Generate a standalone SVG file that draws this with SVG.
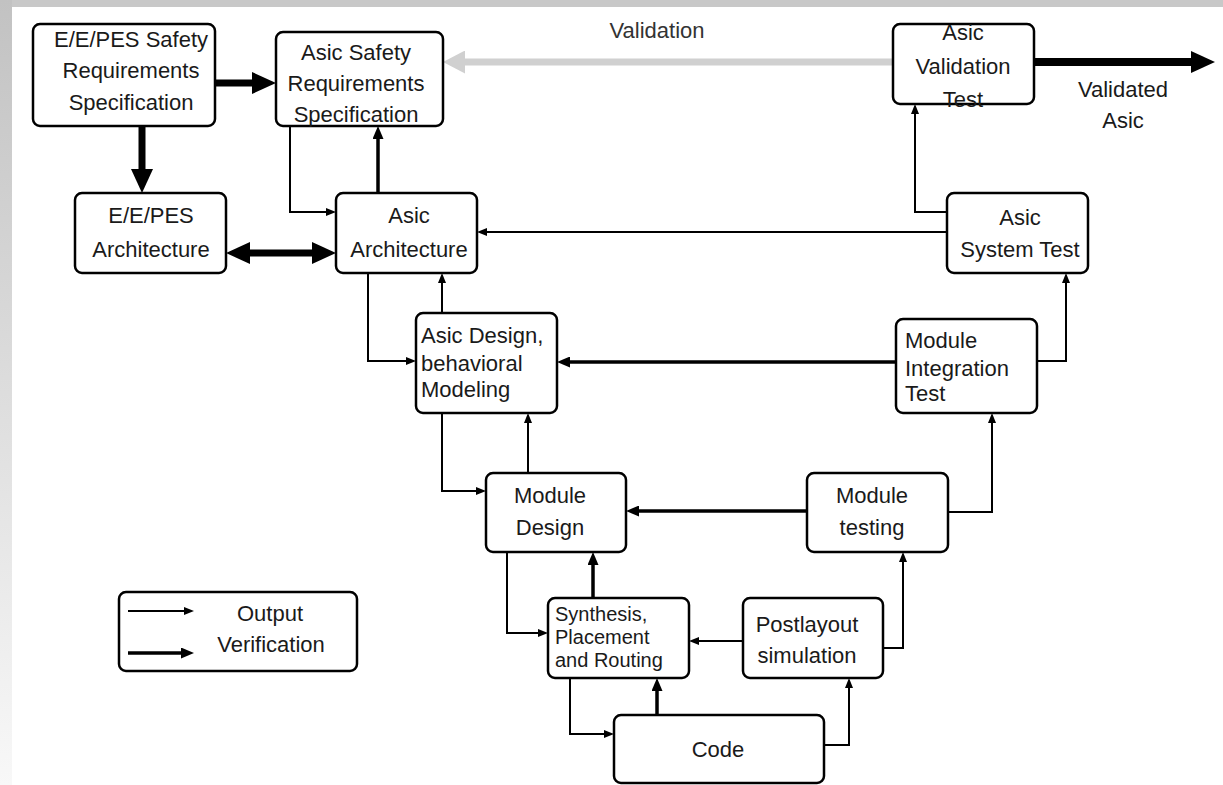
<svg xmlns="http://www.w3.org/2000/svg" width="1223" height="785" viewBox="0 0 1223 785">
<defs>
<linearGradient id="lg" x1="0" y1="0" x2="0" y2="1">
<stop offset="0" stop-color="#c2c2c2"/>
<stop offset="1" stop-color="#f8f8f8"/>
</linearGradient>
<marker id="aT" markerUnits="userSpaceOnUse" markerWidth="10" markerHeight="8" refX="7" refY="4" orient="auto"><path d="M0,0 L10,4 L0,8 z" fill="#000"/></marker>
<marker id="aM" markerUnits="userSpaceOnUse" markerWidth="13" markerHeight="11" refX="8" refY="5.5" orient="auto"><path d="M0,0 L13,5.5 L0,11 z" fill="#000"/></marker>
<marker id="aB" markerUnits="userSpaceOnUse" markerWidth="24" markerHeight="22" refX="14" refY="11" orient="auto-start-reverse"><path d="M0,0 L24,11 L0,22 z" fill="#000"/></marker>
<marker id="aG" markerUnits="userSpaceOnUse" markerWidth="22" markerHeight="23" refX="12" refY="11.5" orient="auto"><path d="M0,0 L22,11.5 L0,23 z" fill="#d0d0d0"/></marker>
</defs>
<style>
.box{fill:#fff;stroke:#000;stroke-width:2.5}
.t{font-family:"Liberation Sans",Arial,sans-serif;font-size:22px;fill:#1a1a1a}
.c{text-anchor:middle}
.thin{fill:none;stroke:#000;stroke-width:2;marker-end:url(#aT)}
.med{fill:none;stroke:#000;stroke-width:3.5;marker-end:url(#aM)}
.big{fill:none;stroke:#000;stroke-width:7;marker-end:url(#aB)}
</style>
<rect x="0" y="0" width="1223" height="785" fill="#fff"/>
<rect x="0" y="0" width="1223" height="7" fill="#c8c8c8"/>
<rect x="0" y="0" width="12" height="785" fill="url(#lg)"/>

<g id="connectors">
<path class="thin" d="M290,126 V212 H333"/>
<path class="thin" d="M947,212 H915 V107"/>
<path class="thin" d="M947,232 H480"/>
<path class="thin" d="M368,273 V361 H413"/>
<path class="thin" d="M442,313 V276"/>
<path class="thin" d="M1037,361 H1066 V276"/>
<path class="thin" d="M442,413 V491 H483"/>
<path class="thin" d="M528,473 V416"/>
<path class="thin" d="M948,512 H992 V416"/>
<path class="thin" d="M507,552 V633 H545"/>
<path class="thin" d="M743,641 H692"/>
<path class="thin" d="M883,648 H903 V555"/>
<path class="thin" d="M570,678 V734 H611"/>
<path class="thin" d="M824,745 H849 V681"/>
<path class="med" d="M378,193 V131"/>
<path class="med" d="M896,362 H562"/>
<path class="med" d="M807,511 H631"/>
<path class="med" d="M593,598 V557"/>
<path class="med" d="M657,715 V683"/>
<path class="big" d="M215,83 H266"/>
<path class="big" d="M142,126 V183"/>
<path class="big" d="M236,253 H326" style="marker-start:url(#aB)"/>
<path class="big" d="M1034,62 H1205" style="stroke-width:8"/>
<path d="M893,62 H453" fill="none" stroke="#d0d0d0" stroke-width="7" marker-end="url(#aG)"/>
</g>

<g id="n-eepes-srs">
<rect class="box" x="33" y="24" width="182" height="102" rx="7"/>
<text class="t c" x="131" y="47">E/E/PES Safety</text>
<text class="t c" x="131" y="78">Requirements</text>
<text class="t c" x="131" y="110">Specification</text>
</g>
<g id="n-asic-srs">
<rect class="box" x="276" y="32" width="167" height="94" rx="7"/>
<text class="t c" x="356" y="60">Asic Safety</text>
<text class="t c" x="356" y="91">Requirements</text>
<text class="t c" x="356" y="122">Specification</text>
</g>
<g id="n-eepes-arch">
<rect class="box" x="75" y="193" width="151" height="80" rx="7"/>
<text class="t c" x="151" y="223">E/E/PES</text>
<text class="t c" x="151" y="257">Architecture</text>
</g>
<g id="n-asic-arch">
<rect class="box" x="336" y="193" width="141" height="80" rx="7"/>
<text class="t c" x="409" y="223">Asic</text>
<text class="t c" x="409" y="257">Architecture</text>
</g>
<g id="n-asic-valtest">
<rect class="box" x="893" y="24" width="141" height="80" rx="7"/>
<text class="t c" x="963" y="40">Asic</text>
<text class="t c" x="963" y="74">Validation</text>
<text class="t c" x="963" y="107">Test</text>
</g>
<g id="n-asic-systest">
<rect class="box" x="947" y="193" width="141" height="80" rx="7"/>
<text class="t c" x="1020" y="225">Asic</text>
<text class="t c" x="1020" y="257">System Test</text>
</g>
<g id="n-asic-design">
<rect class="box" x="416" y="313" width="141" height="100" rx="7"/>
<text class="t" x="421" y="343">Asic Design,</text>
<text class="t" x="421" y="371">behavioral</text>
<text class="t" x="421" y="397">Modeling</text>
</g>
<g id="n-mit">
<rect class="box" x="896" y="319" width="141" height="94" rx="7"/>
<text class="t" x="905" y="348">Module</text>
<text class="t" x="905" y="376">Integration</text>
<text class="t" x="905" y="401">Test</text>
</g>
<g id="n-module-design">
<rect class="box" x="486" y="473" width="140" height="79" rx="7"/>
<text class="t c" x="550" y="503">Module</text>
<text class="t c" x="550" y="535">Design</text>
</g>
<g id="n-module-testing">
<rect class="box" x="807" y="473" width="141" height="79" rx="7"/>
<text class="t c" x="872" y="503">Module</text>
<text class="t c" x="872" y="535">testing</text>
</g>
<g id="n-synthesis">
<rect class="box" x="548" y="598" width="141" height="80" rx="7"/>
<text class="t" x="555" y="621" style="font-size:20px">Synthesis,</text>
<text class="t" x="555" y="644" style="font-size:20px">Placement</text>
<text class="t" x="555" y="667" style="font-size:20px">and Routing</text>
</g>
<g id="n-postlayout">
<rect class="box" x="743" y="598" width="140" height="80" rx="7"/>
<text class="t c" x="807" y="632">Postlayout</text>
<text class="t c" x="807" y="663">simulation</text>
</g>
<g id="n-code">
<rect class="box" x="614" y="715" width="210" height="68" rx="7"/>
<text class="t c" x="718" y="757">Code</text>
</g>
<g id="legend">
<rect class="box" x="119" y="592" width="238" height="79" rx="7"/>
<path class="thin" d="M128,611 H191"/>
<path class="med" d="M128,653 H189"/>
<text class="t c" x="270" y="621">Output</text>
<text class="t c" x="271" y="652">Verification</text>
</g>
<g id="labels">
<text class="t c" x="657" y="38" style="fill:#333">Validation</text>
<text class="t c" x="1123" y="97">Validated</text>
<text class="t c" x="1123" y="128">Asic</text>
</g>
</svg>
